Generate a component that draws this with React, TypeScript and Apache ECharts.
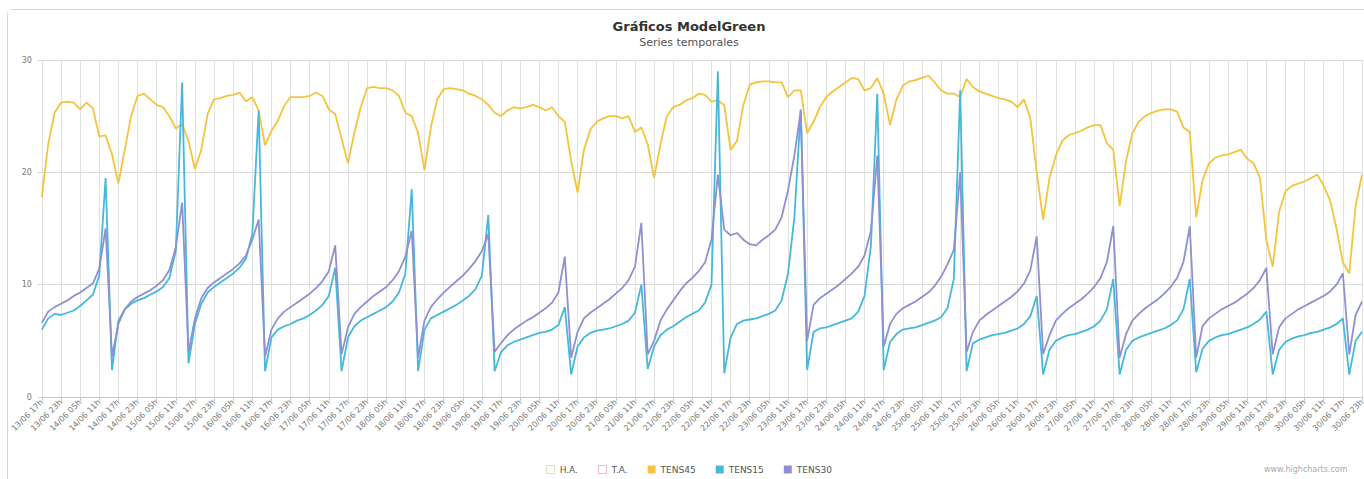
import React, { useEffect, useRef } from "react";
import * as echarts from "echarts";

const tickLabels = [
  "13/06 17h", "13/06 23h",
  "14/06 05h", "14/06 11h", "14/06 17h", "14/06 23h",
  "15/06 05h", "15/06 11h", "15/06 17h", "15/06 23h",
  "16/06 05h", "16/06 11h", "16/06 17h", "16/06 23h",
  "17/06 05h", "17/06 11h", "17/06 17h", "17/06 23h",
  "18/06 05h", "18/06 11h", "18/06 17h", "18/06 23h",
  "19/06 05h", "19/06 11h", "19/06 17h", "19/06 23h",
  "20/06 05h", "20/06 11h", "20/06 17h", "20/06 23h",
  "21/06 05h", "21/06 11h", "21/06 17h", "21/06 23h",
  "22/06 05h", "22/06 11h", "22/06 17h", "22/06 23h",
  "23/06 05h", "23/06 11h", "23/06 17h", "23/06 23h",
  "24/06 05h", "24/06 11h", "24/06 17h", "24/06 23h",
  "25/06 05h", "25/06 11h", "25/06 17h", "25/06 23h",
  "26/06 05h", "26/06 11h", "26/06 17h", "26/06 23h",
  "27/06 05h", "27/06 11h", "27/06 17h", "27/06 23h",
  "28/06 05h", "28/06 11h", "28/06 17h", "28/06 23h",
  "29/06 05h", "29/06 11h", "29/06 17h", "29/06 23h",
  "30/06 05h", "30/06 11h", "30/06 17h", "30/06 23h",
];

const tickHours = 6;
const sampleStepHours = 2;
const yTicks = [0, 10, 20, 30];

const tens45 = [
  17.8, 22.5, 25.3, 26.2, 26.3, 26.2, 25.6, 26.2, 25.7, 23.2,
  23.3, 21.6, 19.0, 22.0, 25.0, 26.8, 27.0, 26.5, 26.0, 25.8,
  25.0, 23.9, 24.3, 22.8, 20.3, 22.0, 25.2, 26.5, 26.6, 26.8,
  26.9, 27.1, 26.3, 26.7, 25.5, 22.4, 23.7, 24.6, 25.9, 26.7,
  26.7, 26.7, 26.8, 27.1, 26.8, 25.6, 25.2, 23.0, 20.8, 23.5,
  25.8, 27.5, 27.6, 27.5, 27.5, 27.3, 26.8, 25.3, 25.0, 23.5,
  20.2, 24.0, 26.5, 27.4, 27.5, 27.4, 27.3, 27.0, 26.8, 26.5,
  26.0, 25.3, 25.0, 25.5, 25.8, 25.7, 25.8, 26.0, 25.8, 25.5,
  25.8, 25.0, 24.5, 21.0, 18.2, 22.0, 23.8, 24.5, 24.8, 25.0,
  25.0, 24.8, 25.0, 23.6, 24.0, 22.5, 19.5, 22.5, 25.0, 25.8,
  26.0, 26.4, 26.6, 27.0, 26.9, 26.3, 26.4, 26.0, 22.0, 22.8,
  26.0, 27.8, 28.0, 28.1, 28.1, 28.0, 28.0, 26.7, 27.3, 27.3,
  23.5, 24.5, 25.8, 26.7, 27.2, 27.6, 28.0, 28.4, 28.3, 27.3,
  27.5, 28.4, 27.0, 24.2, 26.5, 27.7, 28.1, 28.2, 28.4, 28.6,
  28.0, 27.3, 27.0, 27.0, 26.7, 28.3, 27.6, 27.2, 27.0, 26.8,
  26.6, 26.5, 26.3, 25.8, 26.5, 24.8, 20.0, 15.8, 19.5, 21.5,
  22.8, 23.3, 23.5, 23.7, 24.0, 24.2, 24.2, 22.6, 22.0, 17.0,
  21.0, 23.5, 24.5, 25.0, 25.3, 25.5, 25.6, 25.6, 25.4, 24.0,
  23.6, 16.0, 19.3, 20.8, 21.3, 21.5, 21.6, 21.8, 22.0, 21.2,
  20.8, 19.5, 14.0, 11.6, 16.5, 18.3, 18.8, 19.0, 19.2, 19.5,
  19.8, 18.8, 17.5, 15.0, 12.0, 11.0, 17.0, 19.8,
];

const tens15 = [
  6.0, 7.0, 7.4, 7.3, 7.5, 7.7, 8.1, 8.6, 9.1, 10.8,
  19.5, 2.4, 6.8, 7.8, 8.3, 8.6, 8.8, 9.1, 9.4, 9.8,
  10.6, 13.0, 28.0, 3.0, 6.5, 8.3, 9.3, 9.8, 10.2, 10.6,
  11.0, 11.5, 12.3, 14.5, 25.5, 2.3, 5.3, 6.0, 6.3, 6.5,
  6.8, 7.0, 7.3, 7.7, 8.2, 9.0, 11.5, 2.3, 5.3, 6.3,
  6.8, 7.1, 7.4, 7.7, 8.0, 8.5, 9.3, 11.0, 18.5, 2.3,
  6.0, 7.0, 7.3, 7.6, 7.9, 8.2, 8.6, 9.0, 9.6, 10.8,
  16.2, 2.3, 4.0, 4.6, 4.9, 5.1, 5.3, 5.5, 5.7, 5.8,
  6.0, 6.4, 8.0, 2.0, 4.5, 5.3, 5.7, 5.9, 6.0, 6.1,
  6.3, 6.5, 6.8, 7.5, 10.0, 2.5, 4.5, 5.5, 6.0, 6.3,
  6.7, 7.1, 7.4, 7.7, 8.4, 10.0, 29.0, 2.1, 5.3, 6.5,
  6.8, 6.9, 7.0, 7.2, 7.4, 7.7, 8.6, 11.0, 16.0, 25.6,
  2.4, 5.8, 6.1, 6.2, 6.4, 6.6, 6.8, 7.0, 7.6, 9.0,
  13.5, 27.0, 2.4, 4.9, 5.6, 6.0, 6.1, 6.2, 6.4, 6.6,
  6.8, 7.1, 7.9, 10.5, 27.3, 2.3, 4.8, 5.1, 5.3, 5.5,
  5.6, 5.7, 5.9, 6.1, 6.5, 7.2, 9.0, 2.0, 4.2, 5.0,
  5.3, 5.5, 5.6, 5.8, 6.0, 6.3, 6.8, 7.8, 10.5, 2.0,
  4.2, 5.0, 5.3, 5.5, 5.7, 5.9, 6.1, 6.4, 6.8, 7.8,
  10.5, 2.2, 4.3, 5.0, 5.3, 5.5, 5.6, 5.8, 6.0, 6.2,
  6.5, 6.9, 7.6, 2.0, 4.2, 4.9, 5.2, 5.4, 5.5, 5.7,
  5.8, 6.0, 6.2, 6.5, 7.0, 2.0, 5.0, 5.8,
];

const tens30 = [
  6.6, 7.6, 8.0, 8.3, 8.6, 9.0, 9.3, 9.7, 10.1, 11.4,
  15.0, 3.6, 6.5, 7.8, 8.5, 8.9, 9.2, 9.5, 9.9, 10.4,
  11.3, 13.3, 17.3, 4.0, 7.0, 8.8, 9.7, 10.2, 10.6, 11.0,
  11.4, 11.9, 12.6, 14.0, 15.8, 3.6, 6.0, 7.0, 7.6, 8.0,
  8.4, 8.8, 9.2, 9.7, 10.3, 11.2, 13.5, 3.8, 6.2, 7.4,
  8.0, 8.5, 9.0, 9.4, 9.8, 10.4, 11.2, 12.5, 14.8, 3.5,
  6.8, 8.0, 8.7, 9.3, 9.8, 10.3, 10.8, 11.4, 12.1, 13.0,
  14.5, 4.0, 4.8, 5.5, 6.0, 6.4, 6.8, 7.1, 7.5, 7.9,
  8.4, 9.3, 12.5, 3.5, 5.8, 7.0, 7.5, 7.9, 8.3, 8.7,
  9.2, 9.7, 10.4, 11.6, 15.5, 3.8, 5.0, 6.8, 7.8, 8.6,
  9.4, 10.1, 10.6, 11.2, 12.0, 14.0, 19.8, 14.9, 14.4, 14.6,
  14.0, 13.6, 13.5, 14.0, 14.4, 14.9, 16.0, 18.4, 21.5, 25.5,
  5.0, 8.2, 8.8, 9.2, 9.6, 10.0, 10.5, 11.0, 11.6, 12.6,
  14.8, 21.5, 4.5, 6.5, 7.4, 7.9, 8.2, 8.5, 8.9, 9.3,
  9.9, 10.7, 11.8, 13.1, 20.0, 4.0, 5.8, 6.8, 7.3, 7.7,
  8.1, 8.5, 8.9, 9.4, 10.1, 11.3, 14.3, 3.8, 5.5, 6.8,
  7.4, 7.9, 8.3, 8.7, 9.2, 9.8, 10.6, 12.0, 15.2, 3.5,
  5.6, 6.8, 7.4, 7.9, 8.3, 8.7, 9.2, 9.8, 10.6, 12.0,
  15.2, 3.5, 6.3, 7.0, 7.4, 7.8, 8.1, 8.4, 8.8, 9.2,
  9.7, 10.4, 11.5, 3.8, 6.2, 7.0, 7.4, 7.8, 8.1, 8.4,
  8.7, 9.0, 9.4, 10.0, 11.0, 3.8, 7.3, 8.5,
];

const haValues: number[] = [];
const taValues: number[] = [];

const seriesNames = ["H.A.", "T.A.", "TENS45", "TENS15", "TENS30"];
const seriesColors = ["#dfe3b4", "#f2b6c8", "#f4c43c", "#45b8dc", "#8e90d2"];

const toPairs = (arr: number[]) => arr.map((v, i) => [i * sampleStepHours, v]);

export default function App() {
  const ref = useRef<HTMLDivElement>(null);

  useEffect(() => {
    if (!ref.current) return;
    const chart = echarts.init(ref.current, null, { renderer: "svg" });
    const font = "DejaVu Sans";
    const allSeries = [haValues, taValues, tens45, tens15, tens30];
    const maxHour = (tickLabels.length - 1) * tickHours;

    chart.setOption({
      animation: false,
      backgroundColor: "#ffffff",
      textStyle: { fontFamily: font },
      title: {
        text: "Gráficos ModelGreen",
        subtext: "Series temporales",
        left: "center",
        top: 5,
        itemGap: 4,
        textStyle: { fontSize: 13, fontWeight: "bold", color: "#333333", fontFamily: font },
        subtextStyle: { fontSize: 11, color: "#555555", fontFamily: font },
      },
      legend: {
        left: "center",
        top: 450,
        icon: "rect",
        itemWidth: 8,
        itemHeight: 8,
        itemGap: 20,
        textStyle: { fontSize: 9, color: "#555555", fontFamily: font },
        data: seriesNames.map((name, i) =>
          i < 2
            ? { name, itemStyle: { color: "#ffffff", borderColor: seriesColors[i], borderWidth: 1 } }
            : { name, itemStyle: { color: seriesColors[i] } }
        ),
      },
      grid: { left: 23, right: 8, top: 50, bottom: 82 },
      xAxis: {
        type: "value",
        min: 0,
        max: maxHour,
        interval: tickHours,
        axisLine: { lineStyle: { color: "#c8c8c8" } },
        axisTick: { show: true, length: 4, lineStyle: { color: "#c8c8c8" } },
        axisLabel: {
          rotate: 45,
          fontSize: 8,
          color: "#777777",
          margin: 4,
          fontFamily: font,
          formatter: (v: number) => tickLabels[Math.round(v / tickHours)] ?? "",
        },
        splitLine: { show: true, lineStyle: { color: "#e2e2e2" } },
      },
      yAxis: {
        type: "value",
        min: yTicks[0],
        max: yTicks[yTicks.length - 1],
        interval: yTicks[1] - yTicks[0],
        axisLine: { show: false },
        axisTick: { show: true, length: 4, lineStyle: { color: "#d8d8d8" } },
        axisLabel: { fontSize: 8, color: "#777777", margin: 10, fontFamily: font },
        splitLine: { show: true, lineStyle: { color: "#d8d8d8" } },
      },
      graphic: [
        {
          type: "text",
          left: 1256,
          top: 455,
          style: { text: "www.highcharts.com", fontSize: 8, fill: "#aaaaaa", fontFamily: font },
        },
      ],
      series: seriesNames.map((name, i) => ({
        name,
        type: "line",
        data: toPairs(allSeries[i]),
        showSymbol: false,
        symbol: "none",
        color: seriesColors[i],
        lineStyle: { width: 1.8, color: seriesColors[i] },
      })),
    });

    return () => chart.dispose();
  }, []);

  return (
    <div
      style={{
        position: "fixed",
        left: 0,
        top: 0,
        width: 1364,
        height: 479,
        overflow: "hidden",
        background: "#ffffff",
      }}
    >
      <div
        style={{
          position: "absolute",
          left: 7,
          top: 9,
          width: 1366,
          height: 480,
          border: "1px solid #d6d6d6",
          borderRadius: 5,
          boxSizing: "border-box",
        }}
      />
      <div
        ref={ref}
        style={{ position: "absolute", left: 8, top: 10, width: 1362, height: 469 }}
      />
    </div>
  );
}
